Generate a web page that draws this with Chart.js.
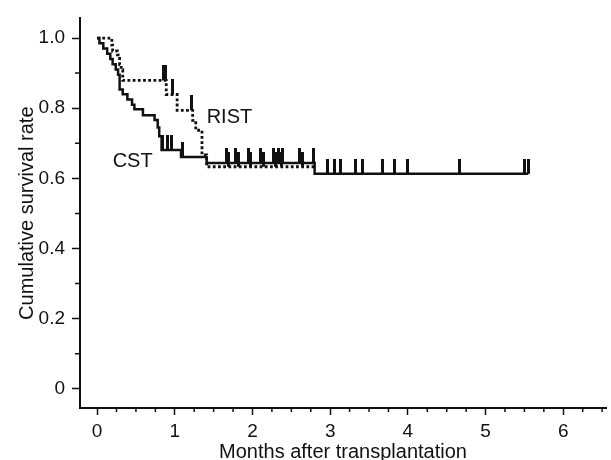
<!DOCTYPE html>
<html>
<head>
<meta charset="utf-8">
<script src="https://cdn.jsdelivr.net/npm/chart.js@4.4.0/dist/chart.umd.min.js"></script>
<style>
html,body{margin:0;padding:0;background:#fff;}
#wrap{width:611px;height:460px;position:relative;}
</style>
</head>
<body>
<div id="wrap"><canvas id="km"></canvas></div>
<script>
// Kaplan-Meier steps: months after transplantation, cumulative survival
let cst_months = [0, 0.03, 0.08, 0.13, 0.17, 0.2, 0.24, 0.27, 0.29, 0.33, 0.39, 0.45, 0.48, 0.59, 0.74, 0.78, 0.8, 0.83, 1.08, 1.41, 2.8, 5.55];
let cst_surv   = [1, 0.985, 0.97, 0.955, 0.94, 0.925, 0.91, 0.895, 0.853, 0.84, 0.825, 0.81, 0.797, 0.78, 0.766, 0.745, 0.72, 0.681, 0.661, 0.644, 0.613, 0.613];

let rist_months = [0, 0.19, 0.2, 0.26, 0.29, 0.31, 0.33, 0.89, 1.03, 1.23, 1.27, 1.35, 1.41, 2.8];
let rist_surv   = [1, 0.98, 0.963, 0.952, 0.924, 0.91, 0.879, 0.839, 0.794, 0.765, 0.737, 0.667, 0.633, 0.633];

// censored observations (months)
let cst_censored = [0.84, 0.9, 0.96, 1.1, 1.66, 1.78, 1.95, 2.1, 2.27, 2.33, 2.39, 2.61, 2.78, 2.97, 3.06, 3.13, 3.32, 3.41, 3.67, 3.83, 3.99, 4.66, 5.5, 5.55];
let rist_censored = [0.86, 0.88, 0.97, 1.22, 1.69, 1.82, 1.97, 2.14, 2.29, 2.37, 2.65];

let x_tick_values = [0, 1, 2, 3, 4, 5, 6];
let x_tick_labels = ['0', '1', '2', '3', '4', '5', '6'];
let y_tick_values = [0, 0.2, 0.4, 0.6, 0.8, 1.0];
let y_tick_labels = ['0', '0.2', '0.4', '0.6', '0.8', '1.0'];
let curve_names = ['CST', 'RIST'];

const ink = '#111';
const fontName = '"Liberation Sans", Arial, sans-serif';

function toPoints(months, surv){
    return months.map((m, i) => ({x: m, y: surv[i]}));
}

function survivalAt(months, surv, t){
    let s = surv[0];
    for (let i = 0; i < months.length; i++) {
        if (months[i] <= t) s = surv[i];
    }
    return s;
}

function censorPoints(times, months, surv){
    return times.map(t => ({x: t, y: survivalAt(months, surv, t)}));
}

// small vertical bar sitting on top of the curve
function censorMark(){
    let c = document.createElement('canvas');
    c.width = 3;
    c.height = 30;
    let g = c.getContext('2d');
    g.fillStyle = ink;
    g.fillRect(0, 0, 3, 15);
    return c;
}
let mark = censorMark();

const extras = {
    id: 'extras',
    afterDraw(chart){
        let ctx = chart.ctx, xs = chart.scales.x, ys = chart.scales.y;
        ctx.save();
        ctx.strokeStyle = ink;
        ctx.lineWidth = 1.5;
        ctx.beginPath();
        // minor ticks
        for (let v = 0.1; v < 1; v += 0.2) {
            let py = ys.getPixelForValue(v);
            ctx.moveTo(xs.left - 5, py);
            ctx.lineTo(xs.left, py);
        }
        for (let k = 1; k <= 26; k++) {
            if (k % 4 === 0) continue;
            let px = xs.getPixelForValue(k / 4);
            if (px > xs.right) continue;
            ctx.moveTo(px, ys.bottom);
            ctx.lineTo(px, ys.bottom + 4);
        }
        ctx.stroke();
        // curve names
        ctx.fillStyle = ink;
        ctx.font = '20px ' + fontName;
        ctx.textBaseline = 'middle';
        ctx.textAlign = 'left';
        ctx.fillText(curve_names[0], xs.getPixelForValue(0.2), ys.getPixelForValue(0.647));
        ctx.fillText(curve_names[1], xs.getPixelForValue(1.41), ys.getPixelForValue(0.774));
        ctx.restore();
    }
};

new Chart(document.getElementById('km'), {
    type: 'line',
    data: {
        datasets: [{
            label: curve_names[0],
            data: toPoints(cst_months, cst_surv),
            stepped: true,
            borderColor: ink,
            borderWidth: 2.5,
            pointRadius: 0,
            fill: false
        }, {
            label: curve_names[1],
            data: toPoints(rist_months, rist_surv),
            stepped: true,
            borderColor: ink,
            borderWidth: 2.8,
            borderDash: [2.8, 2.4],
            pointRadius: 0,
            fill: false
        }, {
            label: 'CST censored',
            data: censorPoints(cst_censored, cst_months, cst_surv),
            showLine: false,
            pointStyle: mark,
            pointRadius: 3
        }, {
            label: 'RIST censored',
            data: censorPoints(rist_censored, rist_months, rist_surv),
            showLine: false,
            pointStyle: mark,
            pointRadius: 3
        }]
    },
    options: {
        animation: false,
        responsive: true,
        maintainAspectRatio: false,
        layout: {padding: {top: 15, left: 0, right: 0, bottom: 0}},
        plugins: {legend: {display: false}, tooltip: {enabled: false}},
        scales: {
            x: {
                type: 'linear',
                min: -0.22,
                max: 6.55,
                afterBuildTicks: axis => { axis.ticks = x_tick_values.map(v => ({value: v})); },
                afterFit: axis => { axis.height = 52; },
                ticks: {
                    color: ink,
                    font: {family: fontName, size: 19},
                    padding: 5,
                    maxRotation: 0,
                    callback: (v, i) => x_tick_labels[i]
                },
                grid: {drawOnChartArea: false, tickLength: 7, tickColor: ink, tickWidth: 1.5},
                border: {color: ink, width: 2},
                title: {
                    display: true,
                    text: 'Months after transplantation',
                    color: ink,
                    font: {family: fontName, size: 20, lineHeight: 0.8},
                    padding: {top: 0, bottom: 0}
                }
            },
            y: {
                type: 'linear',
                min: -0.055,
                max: 1.056,
                afterBuildTicks: axis => { axis.ticks = y_tick_values.map(v => ({value: v})); },
                afterFit: axis => { axis.width = 80; },
                ticks: {
                    color: ink,
                    font: {family: fontName, size: 19},
                    padding: 7,
                    callback: (v, i) => y_tick_labels[i]
                },
                grid: {drawOnChartArea: false, tickLength: 8, tickColor: ink, tickWidth: 1.5},
                border: {color: ink, width: 2},
                title: {
                    display: true,
                    text: 'Cumulative survival rate',
                    color: ink,
                    font: {family: fontName, size: 20},
                    padding: {top: 15, bottom: 0}
                }
            }
        }
    },
    plugins: [extras]
});
</script>
</body>
</html>
